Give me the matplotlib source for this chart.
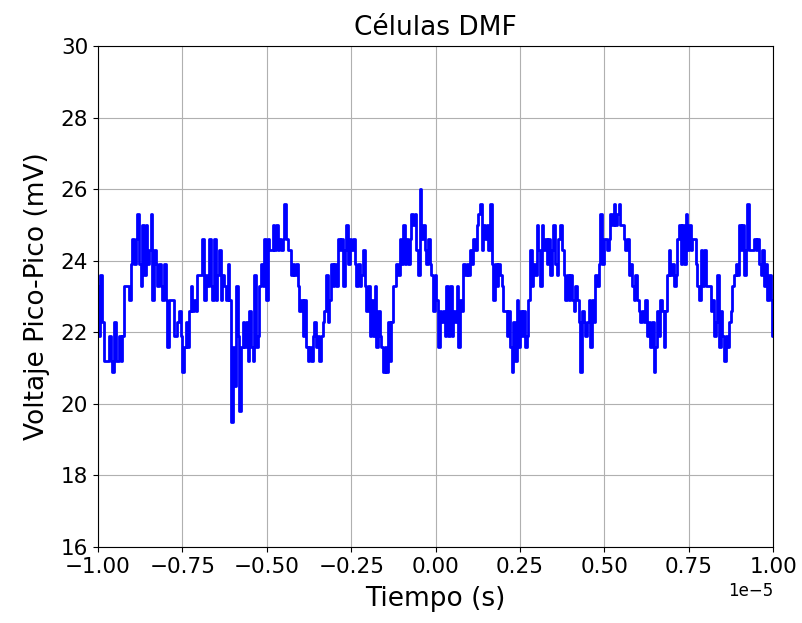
import numpy as np
import matplotlib
matplotlib.use("Agg")
import matplotlib.pyplot as plt

voltaje = [
    # -1.00 .. -0.76
    23.3, 21.9, 23.6, 22.3, 21.2, 21.2, 21.2, 21.9, 21.2, 20.9,
    22.3, 21.2, 21.2, 21.9, 21.2, 21.9, 23.3, 23.3, 23.3, 22.9,
    23.9, 24.6, 23.9, 24.6, 25.3, 23.9, 23.3, 25.0, 23.6, 25.0,
    23.9, 24.3, 25.3, 22.9, 24.3, 23.9, 23.3, 23.9, 23.3, 22.9,
    23.9, 22.9, 21.6, 22.9, 22.9, 22.9, 21.9, 21.9, 22.3,
    # -0.75 .. -0.51
    22.6, 21.9, 20.9, 21.6, 22.3, 21.6, 22.6, 23.3, 22.6, 22.9,
    22.6, 23.6, 23.6, 23.6, 24.6, 22.9, 23.6, 23.3, 24.6, 23.3,
    22.9, 24.6, 22.9, 23.6, 24.3, 22.9, 23.6, 23.3, 22.9, 23.9,
    22.9, 19.5, 21.6, 20.5, 23.3, 21.9, 19.8, 21.6, 22.3, 21.6,
    22.3, 21.2, 22.6, 21.6, 21.2, 23.6, 21.6, 21.9, 23.3, 23.9,
    23.3,
    # -0.50 .. -0.26
    24.6, 22.9, 24.6, 24.3, 24.3, 25.0, 24.3, 25.0, 24.3, 24.6,
    24.3, 24.6, 25.6, 24.6, 24.3, 24.3, 23.6, 23.9, 23.6, 23.9,
    23.3, 22.6, 22.9, 21.9, 22.9, 21.6, 21.2, 21.6, 21.2, 21.9,
    22.3, 21.6, 21.9, 21.2, 21.9, 22.3, 22.6, 23.6, 22.3, 22.9,
    23.9, 23.3, 23.9, 23.3, 24.6, 24.3, 24.6, 23.3, 24.3, 25.0,
    23.9,
    # -0.25 .. -0.01
    24.6, 24.3, 24.6, 23.9, 23.3, 23.9, 23.3, 23.6, 24.3, 23.3,
    22.6, 23.3, 21.9, 22.9, 21.9, 23.3, 21.6, 22.6, 21.9, 21.6,
    20.9, 21.6, 20.9, 22.3, 21.2, 22.3, 23.3, 23.3, 23.9, 23.6,
    24.6, 23.9, 25.0, 23.9, 24.6, 23.9, 24.6, 25.3, 25.0, 25.3,
    24.3, 23.6, 26.0, 24.6, 25.0, 24.3, 23.9, 24.6, 23.9, 23.6,
    22.6,
    # 0.00 .. 0.24
    23.6, 22.9, 21.6, 22.6, 22.3, 22.6, 21.9, 23.3, 21.9, 23.3,
    21.9, 22.6, 22.3, 23.3, 21.6, 22.9, 22.6, 23.9, 23.6, 23.9,
    23.6, 24.3, 23.9, 24.6, 24.3, 25.0, 25.3, 25.6, 24.3, 25.0,
    24.6, 25.0, 24.3, 25.6, 23.9, 22.9, 23.9, 23.3, 23.9, 23.6,
    23.3, 22.6, 22.6, 21.9, 22.6, 21.6, 20.9, 22.3, 21.2, 22.9,
    21.6,
    # 0.25 .. 0.49
    22.6, 21.9, 22.6, 21.6, 21.9, 22.9, 24.3, 23.3, 23.9, 23.6,
    25.0, 24.3, 23.3, 25.0, 24.3, 24.6, 23.9, 24.6, 23.6, 24.3,
    25.0, 23.9, 23.6, 24.6, 25.0, 24.3, 23.6, 22.9, 23.6, 22.9,
    23.6, 22.9, 22.6, 23.3, 22.9, 22.3, 20.9, 22.6, 22.3, 21.9,
    22.3, 22.9, 21.6, 22.9, 22.3, 23.6, 23.3, 23.9, 25.3, 23.9,
    24.6,
    # 0.50 .. 0.74
    24.6, 24.3, 24.6, 25.3, 25.0, 25.6, 25.0, 25.3, 25.6, 25.0,
    25.0, 24.6, 24.3, 24.6, 23.6, 23.9, 23.3, 22.9, 23.6, 22.9,
    22.6, 22.3, 22.6, 22.3, 22.9, 21.9, 22.3, 21.6, 22.3, 20.9,
    21.6, 22.6, 21.9, 22.9, 22.6, 21.6, 22.6, 23.6, 24.3, 23.6,
    23.9, 23.3, 23.6, 24.6, 25.0, 23.9, 25.0, 23.9, 25.3, 24.3,
    25.0,
    # 0.75 .. 1.00
    24.3, 24.6, 24.6, 23.9, 23.3, 22.9, 24.3, 23.3, 24.3, 23.3,
    23.3, 23.3, 22.6, 22.9, 21.9, 22.3, 23.6, 21.6, 22.6, 21.9,
    21.2, 21.9, 21.6, 22.3, 22.6, 23.3, 23.6, 23.9, 23.6, 25.0,
    24.3, 25.0, 23.6, 24.3, 25.6, 24.3, 24.3, 24.3, 24.6, 24.3,
    24.6, 23.9, 23.6, 24.3, 23.3, 23.9, 22.9, 23.6, 22.9, 21.9,
]

t_inicio = -1e-5
t_fin = 1e-5
tiempo = np.linspace(t_inicio, t_fin, len(voltaje))

fig = plt.figure(figsize=(8.03, 6.23), dpi=100)
ax = fig.add_axes([0.122, 0.122, 0.841, 0.804])

ax.plot(tiempo, voltaje, color="blue", linewidth=2.0, drawstyle="steps-mid")
ax.set_xlim(t_inicio, t_fin)
ax.set_ylim(16, 30)
ax.set_title("Células DMF", fontsize=19, pad=8)
ax.set_xlabel("Tiempo (s)", fontsize=19, labelpad=6)
ax.set_ylabel("Voltaje Pico-Pico (mV)", fontsize=19, labelpad=8)
ax.tick_params(labelsize=15.5)
ax.tick_params(axis="x", pad=4)
ax.xaxis.get_offset_text().set_fontsize(12)
ax.grid(True)

fig.savefig("out.png", dpi=100)
